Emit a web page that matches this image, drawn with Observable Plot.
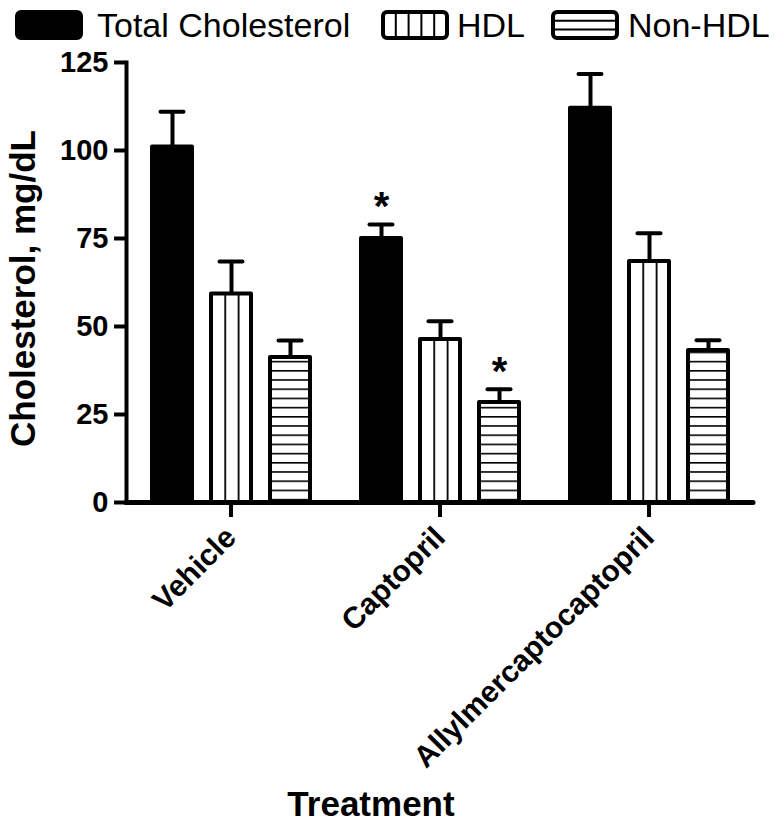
<!DOCTYPE html>
<html>
<head>
<meta charset="utf-8">
<script src="https://cdn.jsdelivr.net/npm/d3@7"></script>
<script src="https://cdn.jsdelivr.net/npm/@observablehq/plot@0.6"></script>
<style>
  html, body { margin: 0; padding: 0; background: #fff; }
  #legend, #chart svg { display: block; }
</style>
</head>
<body>
<svg id="legend" width="783" height="48"></svg>
<div id="chart"></div>
<script>
// ---- data ----
const treatments = ["Vehicle", "Captopril", "Allylmercaptocaptopril"];
const seriesNames = ["Total Cholesterol", "HDL", "Non-HDL"];
const totalMeans = [101, 75, 112];
const totalSEM = [10, 4, 9.7];
const hdlMeans = [59.2, 46.3, 68.5];
const hdlSEM = [9.3, 5.2, 8];
const nonHdlMeans = [41.2, 28.4, 43.2];
const nonHdlSEM = [4.8, 3.8, 2.9];
const yTicks = [0, 25, 50, 75, 100, 125];
const starred = [["Captopril", "Total Cholesterol"], ["Captopril", "Non-HDL"]];
const yLabel = "Cholesterol, mg/dL";
const xLabel = "Treatment";

const means = [totalMeans, hdlMeans, nonHdlMeans];
const sems = [totalSEM, hdlSEM, nonHdlSEM];
const rows = treatments.flatMap((t, i) => seriesNames.map((s, j) => ({
  treatment: t, series: s, mean: means[j][i], upper: means[j][i] + sems[j][i]
})));
const starRows = starred.map(([t, s]) => rows.find(r => r.treatment === t && r.series === s));

// ---- legend ----
const lg = d3.select("#legend");
const swatchX = [15, 381, 551];
const labelX = [97, 457, 628];
seriesNames.forEach((s, j) => {
  const g = lg.append("g").attr("transform", `translate(${swatchX[j]},10)`);
  g.append("rect").attr("x", 2).attr("y", 2).attr("width", 64).attr("height", 26)
    .attr("rx", 4).attr("fill", j === 0 ? "black" : "white").attr("stroke", "black").attr("stroke-width", 4);
  if (j === 1) for (let k = 1; k <= 4; k++)
    g.append("line").attr("x1", 2 + k * 12.8).attr("x2", 2 + k * 12.8).attr("y1", 2).attr("y2", 28)
      .attr("stroke", "black").attr("stroke-width", 2);
  if (j === 2) for (let k = 1; k <= 2; k++)
    g.append("line").attr("x1", 2).attr("x2", 66).attr("y1", 2 + k * 8.7).attr("y2", 2 + k * 8.7)
      .attr("stroke", "black").attr("stroke-width", 2);
  lg.append("text").attr("x", labelX[j]).attr("y", 37).text(s)
    .attr("font-family", "'Liberation Sans', Arial, sans-serif").attr("font-size", 34).attr("fill", "black");
});

// ---- chart ----
const chart = Plot.plot({
  width: 783,
  height: 778,
  marginLeft: 125,
  marginRight: 30,
  marginTop: 14,
  marginBottom: 324,
  style: { fontFamily: "'Liberation Sans', Arial, sans-serif", fontWeight: "bold", color: "black", background: "white", overflow: "visible" },
  fx: { domain: treatments, padding: 0 },
  x: { domain: seriesNames, paddingInner: 0.33, paddingOuter: 0.41, axis: null },
  y: { domain: [0, 125] },
  color: { domain: seriesNames, range: ["black", "url(#vlines)", "url(#hlines)"] },
  marks: [
    Plot.ruleX(rows, { fx: "treatment", x: "series", y1: "mean", y2: "upper", stroke: "black", strokeWidth: 4 }),
    Plot.tickY(rows, { fx: "treatment", x: "series", y: "upper", stroke: "black", strokeWidth: 4, insetLeft: 8.5, insetRight: 8.5, strokeLinecap: "round" }),
    Plot.barY(rows, { fx: "treatment", x: "series", y: "mean", fill: "series", stroke: "black", strokeWidth: 4, strokeLinejoin: "round" }),
    Plot.text(starRows, { fx: "treatment", x: "series", y: "upper", text: () => "*", fontSize: 40, lineAnchor: "bottom", dy: -4 }),
    Plot.ruleY([0], { stroke: "black", strokeWidth: 5, strokeLinecap: "round" }),
    Plot.frame({ anchor: "left", facetAnchor: "left", stroke: "black", strokeWidth: 4 }),
    Plot.axisY({ ticks: yTicks, tickSize: 12, tickPadding: 6, fontSize: 29, strokeWidth: 4, label: null }),
    Plot.axisFx({ anchor: "bottom", tickSize: 15, tickPadding: 15, tickRotate: -45, fontSize: 30, strokeWidth: 4, label: null }),
    Plot.text([{ t: treatments[0], label: yLabel }], { fx: "t", text: "label", frameAnchor: "left", textAnchor: "middle", rotate: -90, lineAnchor: "bottom", dx: -92, dy: 6, fontSize: 35 }),
    Plot.text([{ t: treatments[1], label: xLabel }], { fx: "t", text: "label", frameAnchor: "bottom", textAnchor: "middle", lineAnchor: "bottom", dx: -69, dy: 313, fontSize: 35 })
  ]
});

// pattern definitions referenced by the color scale range
const defs = d3.select(chart).insert("defs", ":first-child");
const pv = defs.append("pattern").attr("id", "vlines")
  .attr("patternUnits", "objectBoundingBox").attr("patternContentUnits", "objectBoundingBox")
  .attr("width", 1 / 3).attr("height", 1);
pv.append("rect").attr("width", 1 / 3).attr("height", 1).attr("fill", "white");
pv.append("rect").attr("x", 0).attr("width", 0.045).attr("height", 1).attr("fill", "black");
const ph = defs.append("pattern").attr("id", "hlines")
  .attr("patternUnits", "userSpaceOnUse").attr("width", 10).attr("height", 9.2);
ph.append("rect").attr("width", 10).attr("height", 9.2).attr("fill", "white");
ph.append("rect").attr("y", 0).attr("width", 10).attr("height", 1.6).attr("fill", "black");

document.getElementById("chart").appendChild(chart);
</script>
</body>
</html>
